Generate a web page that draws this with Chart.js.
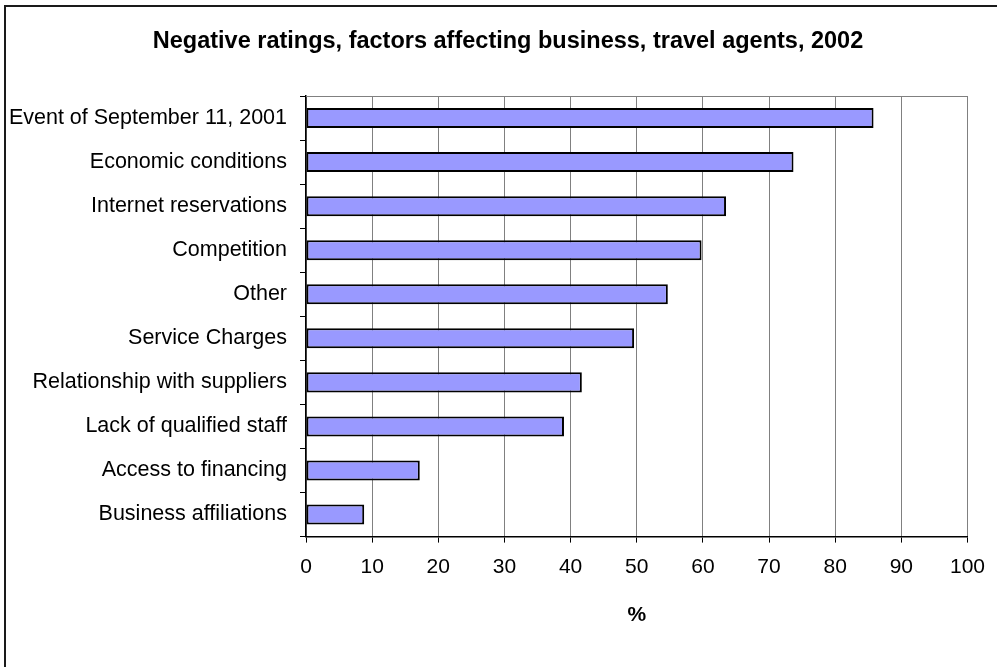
<!DOCTYPE html>
<html>
<head>
<meta charset="utf-8">
<title>Negative ratings, factors affecting business, travel agents, 2002</title>
<script src="https://cdn.jsdelivr.net/npm/chart.js@4/dist/chart.umd.min.js"></script>
<style>
  html, body { margin: 0; padding: 0; background: #fff; }
  #wrap { position: relative; width: 997px; height: 667px; }
</style>
</head>
<body>
<div id="wrap"><canvas id="ratings-chart" width="997" height="667"></canvas></div>
<script>
/* =====================
   Negative ratings bar chart
   ===================== */

const factors = [
  'Event of September 11, 2001',
  'Economic conditions',
  'Internet reservations',
  'Competition',
  'Other',
  'Service Charges',
  'Relationship with suppliers',
  'Lack of qualified staff',
  'Access to financing',
  'Business affiliations',
];
const negativePct = [85.8, 73.7, 63.5, 59.8, 54.7, 49.6, 41.7, 39.0, 17.2, 8.8];
const pctTicks = [0, 10, 20, 30, 40, 50, 60, 70, 80, 90, 100];

const chartTitle = 'Negative ratings, factors affecting business, travel agents, 2002';
const FONT = "'Liberation Sans', Arial, sans-serif";

// Outer frame, plot-area top edge and the title centred on the frame
const framePlugin = {
  id: 'frame',
  afterDraw(chart) {
    const { ctx, chartArea } = chart;
    ctx.save();
    ctx.strokeStyle = '#1a1a1a';
    ctx.lineWidth = 2;
    ctx.beginPath();
    ctx.moveTo(5, 667);
    ctx.lineTo(5, 6);
    ctx.lineTo(997, 6);
    ctx.stroke();

    ctx.strokeStyle = '#808080';
    ctx.lineWidth = 1;
    ctx.beginPath();
    ctx.moveTo(chartArea.left, chartArea.top + 0.5);
    ctx.lineTo(chartArea.right, chartArea.top + 0.5);
    ctx.stroke();

    ctx.fillStyle = '#000';
    ctx.font = `bold 23.5px ${FONT}`;
    ctx.textAlign = 'center';
    ctx.textBaseline = 'middle';
    ctx.fillText(chartTitle, 508, 42);
    ctx.restore();
  },
};

new Chart(document.getElementById('ratings-chart'), {
  type: 'bar',
  data: {
    labels: factors,
    datasets: [{
      data: negativePct,
      backgroundColor: '#9999ff',
      borderColor: '#000',
      borderWidth: 2,
      borderSkipped: false,
      categoryPercentage: 1,
      barPercentage: 0.455,
    }],
  },
  options: {
    indexAxis: 'y',
    responsive: false,
    animation: false,
    layout: { padding: { top: 96, left: 10, right: 29, bottom: 39 } },
    plugins: {
      legend: { display: false },
      title: { display: false },
      tooltip: { enabled: false },
    },
    scales: {
      x: {
        min: 0,
        max: 100,
        afterBuildTicks: (scale) => { scale.ticks = pctTicks.map(v => ({ value: v })); },
        grid: {
          color: '#808080',
          tickColor: '#000',
          tickLength: 6,
          lineWidth: 1,
        },
        border: { color: '#000', width: 1.5 },
        ticks: {
          color: '#000',
          padding: 12,
          maxRotation: 0,
          font: { family: FONT, size: 21 },
        },
        title: {
          display: true,
          text: '%',
          color: '#000',
          padding: { top: 11, bottom: 0 },
          font: { family: FONT, size: 21, weight: 'bold' },
        },
      },
      y: {
        // fixed label column so the plot starts where the axis sits
        afterFit: (scale) => { scale.width = 296; },
        grid: {
          offset: true,
          drawOnChartArea: false,
          color: '#000',
          tickLength: 6,
        },
        border: { color: '#000', width: 1.5 },
        ticks: {
          color: '#000',
          padding: 13,
          autoSkip: false,
          font: { family: FONT, size: 21.5 },
        },
      },
    },
  },
  plugins: [framePlugin],
});
</script>
</body>
</html>
